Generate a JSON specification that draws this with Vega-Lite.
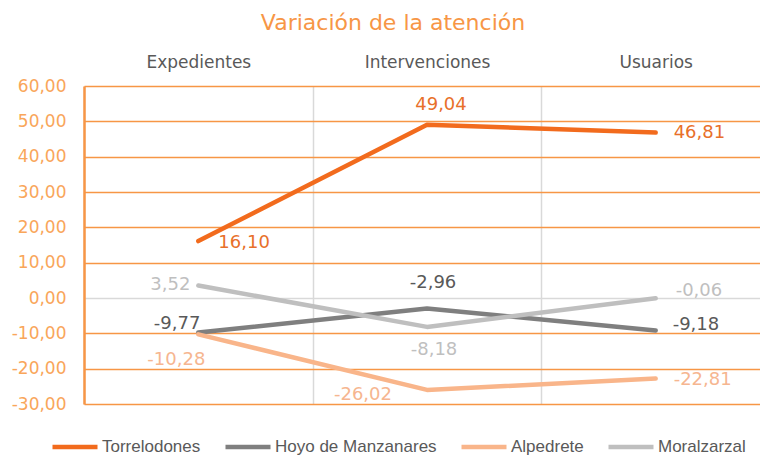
{
  "$schema": "https://vega.github.io/schema/vega-lite/v6.json",
  "width": 676,
  "height": 318,
  "autosize": {"type": "none"},
  "padding": {"left": 84, "top": 86, "right": 0, "bottom": 54},
  "background": "white",
  "title": {"text": "Variación de la atención", "font": "DejaVu Sans", "fontSize": 22, "fontWeight": "normal", "color": "#F79646", "anchor": "middle", "dx": -29, "offset": 18},
  "data": {"values": [
    {"serie": "Torrelodones", "categoria": "Expedientes", "valor": 16.10},
    {"serie": "Torrelodones", "categoria": "Intervenciones", "valor": 49.04},
    {"serie": "Torrelodones", "categoria": "Usuarios", "valor": 46.81},
    {"serie": "Hoyo de Manzanares", "categoria": "Expedientes", "valor": -9.77},
    {"serie": "Hoyo de Manzanares", "categoria": "Intervenciones", "valor": -2.96},
    {"serie": "Hoyo de Manzanares", "categoria": "Usuarios", "valor": -9.18},
    {"serie": "Alpedrete", "categoria": "Expedientes", "valor": -10.28},
    {"serie": "Alpedrete", "categoria": "Intervenciones", "valor": -26.02},
    {"serie": "Alpedrete", "categoria": "Usuarios", "valor": -22.81},
    {"serie": "Moralzarzal", "categoria": "Expedientes", "valor": 3.52},
    {"serie": "Moralzarzal", "categoria": "Intervenciones", "valor": -8.18},
    {"serie": "Moralzarzal", "categoria": "Usuarios", "valor": -0.06}
  ]},
  "encoding": {
    "x": {"field": "categoria", "type": "nominal", "sort": ["Expedientes", "Intervenciones", "Usuarios"], "bandPosition": 0.5,
      "scale": {"type": "band", "range": [0, 686], "paddingInner": 0, "paddingOuter": 0},
      "axis": {"orient": "top", "title": null, "domain": false, "ticks": false, "labelPadding": 15, "labelFont": "DejaVu Sans", "labelFontSize": 17, "labelColor": "#595959", "labelAngle": 0, "grid": true, "gridColor": "#D9D9D9", "gridWidth": 1.5, "tickBand": "extent"}},
    "y": {"field": "valor", "type": "quantitative",
      "scale": {"domain": [-30, 60], "nice": false, "zero": false},
      "axis": {"title": null, "values": [-30, -20, -10, 0, 10, 20, 30, 40, 50, 60], "format": ".2f", "labelFont": "DejaVu Sans", "labelFontSize": 17, "labelColor": "#F9A65A", "labelPadding": 18, "ticks": false, "domainColor": "#F79646", "domainWidth": 2.5,
        "gridColor": {"condition": {"test": "datum.value === 0", "value": "#D9D9D9"}, "value": "#F79646"}, "gridWidth": 1.5}}
  },
  "layer": [
    {"mark": {"type": "line", "strokeWidth": 4.5, "strokeCap": "round", "strokeJoin": "round"},
     "encoding": {"color": {"field": "serie", "type": "nominal",
        "scale": {"domain": ["Torrelodones", "Hoyo de Manzanares", "Alpedrete", "Moralzarzal"], "range": ["#F26B1D", "#7F7F7F", "#F9B58A", "#BFBFBF"]},
        "legend": {"orient": "none", "legendX": -34, "legendY": 336, "direction": "horizontal", "columns": 4, "title": null, "symbolType": "stroke", "symbolStrokeWidth": 4.5, "symbolSize": 2025, "labelFont": "Liberation Sans", "labelFontSize": 17, "labelLimit": 400, "labelColor": "#595959", "labelOffset": 2, "columnPadding": 15}}}},
    {"transform": [{"filter": "datum.serie === 'Torrelodones' && datum.categoria === 'Expedientes'"}],
     "mark": {"type": "text", "align": "left", "baseline": "middle", "dx": 20, "dy": 2, "font": "DejaVu Sans", "fontSize": 18, "color": "#E8702A"},
     "encoding": {"text": {"field": "valor", "type": "quantitative", "format": ".2f"}}},
    {"transform": [{"filter": "datum.serie === 'Torrelodones' && datum.categoria === 'Intervenciones'"}],
     "mark": {"type": "text", "align": "center", "baseline": "middle", "dx": 14, "dy": -20, "font": "DejaVu Sans", "fontSize": 18, "color": "#E8702A"},
     "encoding": {"text": {"field": "valor", "type": "quantitative", "format": ".2f"}}},
    {"transform": [{"filter": "datum.serie === 'Torrelodones' && datum.categoria === 'Usuarios'"}],
     "mark": {"type": "text", "align": "left", "baseline": "middle", "dx": 18, "dy": 0, "font": "DejaVu Sans", "fontSize": 18, "color": "#E8702A"},
     "encoding": {"text": {"field": "valor", "type": "quantitative", "format": ".2f"}}},
    {"transform": [{"filter": "datum.serie === 'Hoyo de Manzanares' && datum.categoria === 'Expedientes'"}],
     "mark": {"type": "text", "align": "right", "baseline": "middle", "dx": 2, "dy": -9, "font": "DejaVu Sans", "fontSize": 18, "color": "#595959"},
     "encoding": {"text": {"field": "valor", "type": "quantitative", "format": ".2f"}}},
    {"transform": [{"filter": "datum.serie === 'Hoyo de Manzanares' && datum.categoria === 'Intervenciones'"}],
     "mark": {"type": "text", "align": "center", "baseline": "middle", "dx": 6, "dy": -25, "font": "DejaVu Sans", "fontSize": 18, "color": "#595959"},
     "encoding": {"text": {"field": "valor", "type": "quantitative", "format": ".2f"}}},
    {"transform": [{"filter": "datum.serie === 'Hoyo de Manzanares' && datum.categoria === 'Usuarios'"}],
     "mark": {"type": "text", "align": "left", "baseline": "middle", "dx": 17, "dy": -5, "font": "DejaVu Sans", "fontSize": 18, "color": "#595959"},
     "encoding": {"text": {"field": "valor", "type": "quantitative", "format": ".2f"}}},
    {"transform": [{"filter": "datum.serie === 'Alpedrete' && datum.categoria === 'Expedientes'"}],
     "mark": {"type": "text", "align": "center", "baseline": "middle", "dx": -22, "dy": 26, "font": "DejaVu Sans", "fontSize": 18, "color": "#F6B690"},
     "encoding": {"text": {"field": "valor", "type": "quantitative", "format": ".2f"}}},
    {"transform": [{"filter": "datum.serie === 'Alpedrete' && datum.categoria === 'Intervenciones'"}],
     "mark": {"type": "text", "align": "right", "baseline": "middle", "dx": -35, "dy": 5, "font": "DejaVu Sans", "fontSize": 18, "color": "#F6B690"},
     "encoding": {"text": {"field": "valor", "type": "quantitative", "format": ".2f"}}},
    {"transform": [{"filter": "datum.serie === 'Alpedrete' && datum.categoria === 'Usuarios'"}],
     "mark": {"type": "text", "align": "left", "baseline": "middle", "dx": 18, "dy": 1, "font": "DejaVu Sans", "fontSize": 18, "color": "#F6B690"},
     "encoding": {"text": {"field": "valor", "type": "quantitative", "format": ".2f"}}},
    {"transform": [{"filter": "datum.serie === 'Moralzarzal' && datum.categoria === 'Expedientes'"}],
     "mark": {"type": "text", "align": "right", "baseline": "middle", "dx": -8, "dy": -1, "font": "DejaVu Sans", "fontSize": 18, "color": "#BFBFBF"},
     "encoding": {"text": {"field": "valor", "type": "quantitative", "format": ".2f"}}},
    {"transform": [{"filter": "datum.serie === 'Moralzarzal' && datum.categoria === 'Intervenciones'"}],
     "mark": {"type": "text", "align": "center", "baseline": "middle", "dx": 7, "dy": 23, "font": "DejaVu Sans", "fontSize": 18, "color": "#BFBFBF"},
     "encoding": {"text": {"field": "valor", "type": "quantitative", "format": ".2f"}}},
    {"transform": [{"filter": "datum.serie === 'Moralzarzal' && datum.categoria === 'Usuarios'"}],
     "mark": {"type": "text", "align": "left", "baseline": "middle", "dx": 20, "dy": -7, "font": "DejaVu Sans", "fontSize": 18, "color": "#BFBFBF"},
     "encoding": {"text": {"field": "valor", "type": "quantitative", "format": ".2f"}}}
  ],
  "config": {
    "view": {"stroke": null},
    "locale": {"number": {"decimal": ",", "thousands": ".", "grouping": [3], "currency": ["", "€"], "minus": "-"}}
  }
}
